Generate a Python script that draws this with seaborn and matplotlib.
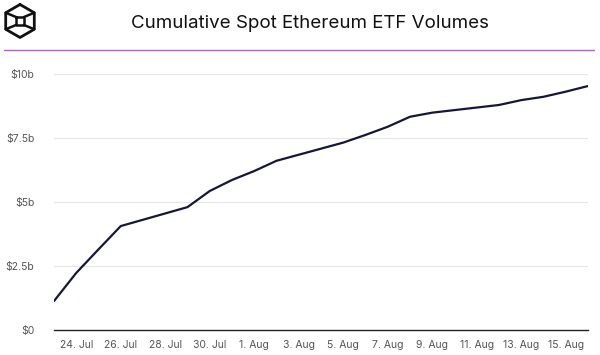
import numpy as np
import pandas as pd
import seaborn as sns
import matplotlib.pyplot as plt
from matplotlib.lines import Line2D

# cumulative spot ETH ETF volume, $ billions, per trading day
dates = ['2024-07-23', '2024-07-24', '2024-07-25', '2024-07-26',
         '2024-07-29', '2024-07-30', '2024-07-31', '2024-08-01', '2024-08-02',
         '2024-08-05', '2024-08-06', '2024-08-07', '2024-08-08', '2024-08-09',
         '2024-08-12', '2024-08-13', '2024-08-14', '2024-08-15', '2024-08-16']
volume_b = [1.13, 2.23, 3.15, 4.06,
            4.80, 5.43, 5.86, 6.21, 6.61,
            7.32, 7.62, 7.94, 8.33, 8.49,
            8.79, 8.98, 9.11, 9.31, 9.53]
y_ticks = [0, 2.5, 5, 7.5, 10]
y_labels = ['$0', '$2.5b', '$5b', '$7.5b', '$10b']

df = pd.DataFrame({'Date': pd.to_datetime(dates), 'Volume': volume_b})

sns.set_theme(style='white')
plt.rcParams['font.family'] = ['Inter', 'DejaVu Sans']

fig = plt.figure(figsize=(6, 3.55), dpi=100)
ax = fig.add_axes([54/600, 25/355, 534/600, 256/355])

sns.lineplot(data=df, x='Date', y='Volume', ax=ax, color='#16163a', linewidth=1.6)

ax.set_xlim(pd.Timestamp('2024-07-23'), pd.Timestamp('2024-08-16'))
ax.set_ylim(0, 10)
ax.set_yticks(y_ticks)
ax.set_yticklabels(y_labels)
ticks = pd.date_range('2024-07-24', '2024-08-15', freq='2D')
ax.set_xticks(ticks)
ax.set_xticklabels([f'{d.day}. {d.strftime("%b")}' for d in ticks])
ax.set_xlabel('')
ax.set_ylabel('')

ax.grid(axis='y', color='#e6e6e6', linewidth=0.8)
ax.set_axisbelow(True)
for side in ['top', 'right', 'left']:
    ax.spines[side].set_visible(False)
ax.spines['bottom'].set_color('#222222')
ax.spines['bottom'].set_linewidth(1.0)
ax.tick_params(axis='y', length=0, pad=14, labelsize=7.5, labelcolor='#555555')
ax.tick_params(axis='x', length=0, pad=7, labelsize=7.5, labelcolor='#555555')

# header
fig.text(310/600, 1 - 23/355, 'Cumulative Spot Ethereum ETF Volumes',
         ha='center', va='center', fontsize=13.5, color='#111111')
fig.add_artist(Line2D([4/600, 594/600], [1 - 49.5/355] * 2, color='#a56bb5', linewidth=1.0))

# logo: hexagon cube outline
cx, cy, r = 20, 21, 16.5
ang = np.deg2rad([90, 150, 210, 270, 330, 30, 90])
hx = cx + r * np.cos(ang)
hy = cy - r * np.sin(ang)
fig.add_artist(Line2D(hx / 600, 1 - hy / 355, color='#111111', linewidth=2.0))
s = 4
sq_x = np.array([cx - s, cx + s, cx + s, cx - s, cx - s])
sq_y = np.array([cy - s, cy - s, cy + s, cy + s, cy - s])
fig.add_artist(Line2D(sq_x / 600, 1 - sq_y / 355, color='#111111', linewidth=1.8))
for i, (px, py) in enumerate(zip(hx[1:6], hy[1:6])):
    if i in (0, 1, 3, 4):
        tx = cx - s if px < cx else cx + s
        ty = cy - s if py < cy else cy + s
        fig.add_artist(Line2D(np.array([px, tx]) / 600, 1 - np.array([py, ty]) / 355,
                              color='#111111', linewidth=1.8))

fig.savefig('out.png', dpi=100)
